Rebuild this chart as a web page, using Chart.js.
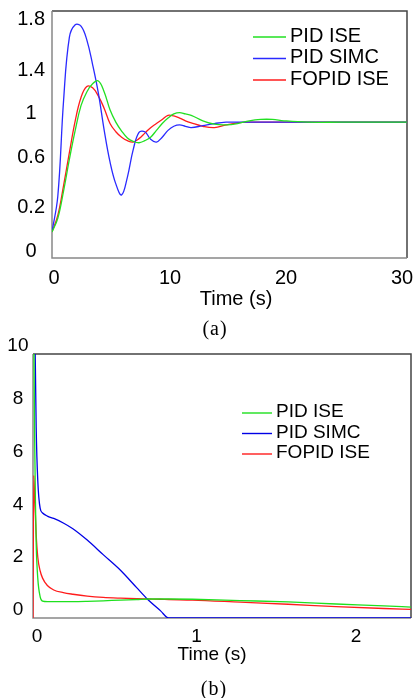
<!DOCTYPE html>
<html>
<head>
<meta charset="utf-8">
<script src="https://cdn.jsdelivr.net/npm/chart.js@4.4.1/dist/chart.umd.min.js"></script>
<style>
body { margin: 0; background: #fff; width: 413px; height: 698px; position: relative; overflow: hidden;
       font-family: 'Liberation Sans', Arial, sans-serif; }
#boxA { position: absolute; left: 0; top: 0; width: 413px; height: 290px; }
#boxB { position: absolute; left: 0; top: 330px; width: 413px; height: 315px; }
.lbl { position: absolute; color: #000; white-space: nowrap; transform: translate(-50%, -50%); line-height: 1; }
.cap { font-family: 'Liberation Serif', 'Times New Roman', serif; font-size: 20px; letter-spacing: 1px; }
</style>
</head>
<body>
<div id="boxA"><canvas id="chartA"></canvas></div>
<div id="boxB"><canvas id="chartB"></canvas></div>
<div class="lbl" style="left:236px; top:298px; font-size:20px;">Time (s)</div>
<div class="lbl cap" style="left:215px; top:328px;">(a)</div>
<div class="lbl" style="left:212px; top:653px; font-size:19px;">Time (s)</div>
<div class="lbl cap" style="left:214px; top:688px;">(b)</div>
<script>
// (a) step response
let seriesNames = ['PID ISE', 'PID SIMC', 'FOPID ISE'];
let timeA = [0, 0.5, 1, 1.5, 2, 2.5, 3, 3.5, 4, 4.5, 5, 5.5, 6, 6.5, 7, 7.5, 8, 8.5, 9, 9.5,
             10, 10.5, 11, 11.5, 12, 13, 14, 15, 16, 17, 18, 19, 20, 22, 25, 28, 30.6];
let pidIseA = [0.19, 0.29, 0.49, 0.72, 0.93, 1.11, 1.21, 1.27, 1.29, 1.21, 1.08, 0.99, 0.925, 0.875, 0.85, 0.84, 0.855, 0.88, 0.93, 0.98,
               1.02, 1.05, 1.06, 1.05, 1.04, 1.00, 0.975, 0.97, 0.98, 1.00, 1.01, 1.01, 1.00, 0.99, 0.99, 0.99, 0.99];
let pidSimcA = [0.19, 0.45, 1.15, 1.61, 1.70, 1.69, 1.59, 1.41, 1.20, 0.93, 0.70, 0.54, 0.46, 0.59, 0.79, 0.915, 0.92, 0.865, 0.845, 0.88,
                0.93, 0.96, 0.97, 0.96, 0.95, 0.965, 0.98, 0.99, 0.99, 0.99, 0.99, 0.99, 0.99, 0.99, 0.99, 0.99, 0.99];
let fopidIseA = [0.19, 0.31, 0.53, 0.77, 1.00, 1.17, 1.25, 1.24, 1.18, 1.09, 0.98, 0.92, 0.88, 0.855, 0.845, 0.87, 0.91, 0.95, 0.98, 1.01,
                 1.04, 1.035, 1.02, 1.00, 0.985, 0.96, 0.95, 0.97, 0.985, 0.99, 0.99, 0.99, 0.99, 0.99, 0.99, 0.99, 0.99];
let xTicksA = [0, 10, 20, 30];
let yTickPosA = [0.05, 0.37, 0.73, 1.05, 1.37, 1.74];
let yTickLabelsA = ['0', '0.2', '0.6', '1', '1.4', '1.8'];

// (b) control signal
let timeB = [0, 0.005, 0.01, 0.015, 0.02, 0.03, 0.045, 0.06, 0.09, 0.13, 0.19, 0.25, 0.34, 0.44, 0.55,
             0.65, 0.72, 0.8, 0.85, 1.0, 1.3, 1.6, 1.9, 2.2, 2.37];
let pidIseB = [14, 11, 7, 4.5, 2.8, 1.5, 0.8, 0.64, 0.62, 0.62, 0.62, 0.62, 0.63, 0.65, 0.68,
               0.70, 0.72, 0.72, 0.72, 0.71, 0.66, 0.61, 0.53, 0.46, 0.41];
let pidSimcB = [16, 14, 11.5, 9.5, 7.2, 5.2, 4.15, 3.98, 3.86, 3.77, 3.6, 3.38, 2.95, 2.4, 1.8,
                1.15, 0.7, 0.27, 0, 0, 0, 0, 0, 0, 0];
let fopidIseB = [0, 5.4, 4.6, 3.9, 3.15, 2.3, 1.78, 1.51, 1.23, 1.06, 0.96, 0.9, 0.83, 0.78, 0.75,
                 0.73, 0.72, 0.71, 0.7, 0.68, 0.6, 0.52, 0.43, 0.36, 0.33];
let xTicksB = [0, 1, 2];
let yTicksB = [0, 2, 4, 6, 8, 10];

function pts(t, v) { return t.map((x, i) => ({ x: x, y: v[i] })); }

// box around the plot area
const frame = {
  id: 'frame',
  beforeDatasetsDraw(chart) {
    const { ctx, chartArea: a } = chart;
    ctx.save();
    ctx.lineWidth = 1.5;
    ctx.strokeStyle = '#444';
    ctx.beginPath();
    ctx.moveTo(a.left, a.top); ctx.lineTo(a.right, a.top); ctx.lineTo(a.right, a.bottom);
    ctx.stroke();
    ctx.strokeStyle = '#888';
    ctx.beginPath();
    ctx.moveTo(a.left, a.top); ctx.lineTo(a.left, a.bottom); ctx.lineTo(a.right, a.bottom);
    ctx.stroke();
    ctx.restore();
  }
};

// legend drawn inside the plot
const lineLegend = {
  id: 'lineLegend',
  afterDatasetsDraw(chart, args, o) {
    const ctx = chart.ctx;
    ctx.save();
    ctx.font = o.size + 'px "Liberation Sans", Arial, sans-serif';
    ctx.textBaseline = 'middle';
    chart.data.datasets.forEach((ds, i) => {
      const y = o.y + i * o.step;
      ctx.strokeStyle = ds.borderColor;
      ctx.lineWidth = 1.4;
      ctx.beginPath();
      ctx.moveTo(o.x, y + 1); ctx.lineTo(o.x + o.len, y + 1);
      ctx.stroke();
      ctx.fillStyle = '#000';
      ctx.fillText(ds.label, o.x + o.len + 4, y);
    });
    ctx.restore();
  }
};

Chart.defaults.font.family = "'Liberation Sans', Arial, sans-serif";
Chart.defaults.color = '#000';

new Chart(document.getElementById('chartA'), {
  type: 'line',
  data: {
    datasets: [
      { label: seriesNames[0], data: pts(timeA, pidIseA), borderColor: '#22e022' },
      { label: seriesNames[1], data: pts(timeA, pidSimcA), borderColor: '#2a2aff' },
      { label: seriesNames[2], data: pts(timeA, fopidIseA), borderColor: '#ff1c1c' }
    ]
  },
  options: {
    responsive: true, maintainAspectRatio: false, animation: false,
    layout: { padding: { top: 11, right: 6, left: 0, bottom: 0 } },
    elements: { point: { radius: 0 }, line: { borderWidth: 1.3, tension: 0.4 } },
    plugins: {
      legend: { display: false }, tooltip: { enabled: false },
      lineLegend: { x: 253, y: 36, step: 21.5, len: 33, size: 20 }
    },
    scales: {
      x: {
        type: 'linear', min: 0, max: 30.6,
        grid: { display: false, drawTicks: false }, border: { display: false },
        afterBuildTicks: s => { s.ticks = xTicksA.map(v => ({ value: v })); },
        afterFit: s => { s.height = 32; s.paddingLeft = 0; s.paddingRight = 0; },
        ticks: { font: { size: 20 }, padding: 8, labelOffset: 2, maxRotation: 0, autoSkip: false }
      },
      y: {
        min: 0, max: 1.8,
        grid: { display: false, drawTicks: false }, border: { display: false },
        afterBuildTicks: s => { s.ticks = yTickPosA.map(v => ({ value: v })); },
        afterFit: s => { s.width = 52; s.paddingTop = 0; s.paddingBottom = 0; },
        ticks: { font: { size: 20 }, padding: 7, crossAlign: 'center', autoSkip: false,
                 callback: (v, i) => yTickLabelsA[i] }
      }
    }
  },
  plugins: [frame, lineLegend]
});

new Chart(document.getElementById('chartB'), {
  type: 'line',
  data: {
    datasets: [
      { label: seriesNames[0], data: pts(timeB, pidIseB), borderColor: '#1ee01e' },
      { label: seriesNames[1], data: pts(timeB, pidSimcB), borderColor: '#0000e6' },
      { label: seriesNames[2], data: pts(timeB, fopidIseB), borderColor: '#ff1c1c' }
    ]
  },
  options: {
    responsive: true, maintainAspectRatio: false, animation: false,
    layout: { padding: { top: 24, right: 2, left: 0, bottom: 0 } },
    elements: { point: { radius: 0 }, line: { borderWidth: 1.3, cubicInterpolationMode: 'monotone' } },
    plugins: {
      legend: { display: false }, tooltip: { enabled: false },
      lineLegend: { x: 242, y: 82, step: 20.5, len: 30, size: 19 }
    },
    scales: {
      x: {
        type: 'linear', min: 0, max: 2.37,
        grid: { display: false, drawTicks: false }, border: { display: false },
        afterBuildTicks: s => { s.ticks = xTicksB.map(v => ({ value: v })); },
        afterFit: s => { s.height = 27; s.paddingLeft = 0; s.paddingRight = 0; },
        ticks: { font: { size: 19 }, padding: 7, labelOffset: 4, maxRotation: 0, autoSkip: false }
      },
      y: {
        min: 0, max: 10,
        grid: { display: false, drawTicks: false }, border: { display: false },
        afterBuildTicks: s => { s.ticks = yTicksB.map(v => ({ value: v })); },
        afterFit: s => { s.width = 33; s.paddingTop = 0; s.paddingBottom = 0; },
        ticks: { font: { size: 19 }, padding: 4.5, crossAlign: 'center', labelOffset: -8, autoSkip: false }
      }
    }
  },
  plugins: [frame, lineLegend]
});
</script>
</body>
</html>
